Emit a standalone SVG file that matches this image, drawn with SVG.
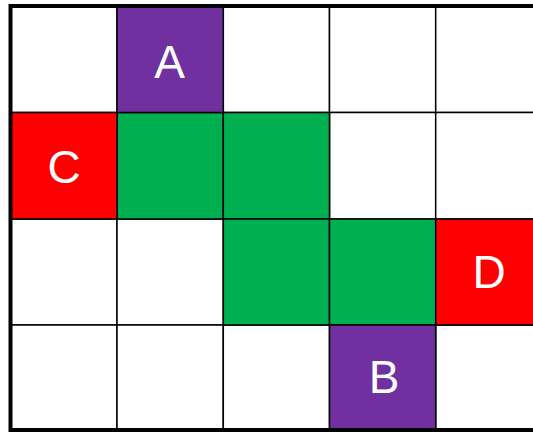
<svg xmlns="http://www.w3.org/2000/svg" width="533" height="432" viewBox="0 0 533 432">
<style>
.c{stroke:#000;stroke-width:1.5}
.p{fill:#7030A0}.r{fill:#FF0000}.g{fill:#00B050}.w{fill:#FFFFFF}
.t{font-family:"Liberation Sans",Arial,sans-serif;font-size:46px;fill:#FFFFFF;text-anchor:middle}
</style>
<rect x="0" y="0" width="533" height="432" fill="#FFFFFF"/>
<g id="grid">
<rect class="c w" x="10.5" y="6" width="106.5" height="106.5"/>
<rect class="c w" x="223.3" y="6" width="106.2" height="106.5"/>
<rect class="c w" x="329.5" y="6" width="106.2" height="106.5"/>
<rect class="c w" x="435.7" y="6" width="106.3" height="106.5"/>
<rect class="c w" x="329.5" y="112.5" width="106.2" height="106.5"/>
<rect class="c w" x="435.7" y="112.5" width="106.3" height="106.5"/>
<rect class="c w" x="10.5" y="219" width="106.5" height="106"/>
<rect class="c w" x="117" y="219" width="106.3" height="106"/>
<rect class="c w" x="10.5" y="325" width="106.5" height="105"/>
<rect class="c w" x="117" y="325" width="106.3" height="105"/>
<rect class="c w" x="223.3" y="325" width="106.2" height="105"/>
<rect class="c w" x="435.7" y="325" width="106.3" height="105"/>
<rect class="c g" x="117" y="112.5" width="106.3" height="106.5"/>
<rect class="c g" x="223.3" y="112.5" width="106.2" height="106.5"/>
<rect class="c g" x="223.3" y="219" width="106.2" height="106"/>
<rect class="c g" x="329.5" y="219" width="106.2" height="106"/>
</g>
<g id="A"><rect class="c p" x="117" y="6" width="106.3" height="106.5"/><text class="t" x="169.5" y="77.5">A</text></g>
<g id="C"><rect class="c r" x="10.5" y="112.5" width="106.5" height="106.5"/><text class="t" x="64" y="183">C</text></g>
<g id="D"><rect class="c r" x="435.7" y="219" width="106.3" height="106"/><text class="t" x="489" y="288">D</text></g>
<g id="B"><rect class="c p" x="329.5" y="325" width="106.2" height="105"/><text class="t" x="384" y="393">B</text></g>
<rect x="10.5" y="6" width="533" height="424" fill="none" stroke="#000" stroke-width="4"/>
</svg>
